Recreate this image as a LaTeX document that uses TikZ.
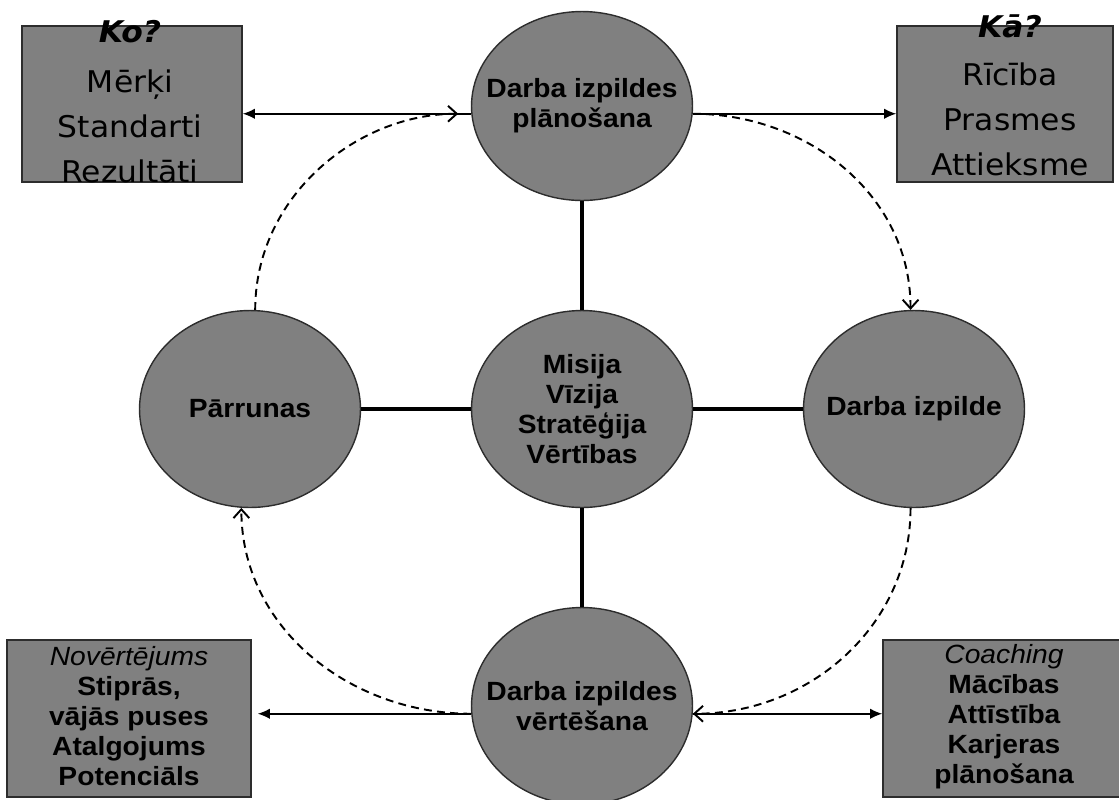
\documentclass[tikz,border=0pt]{standalone}
\usepackage{fontspec}
\usepackage{tikz}
\usetikzlibrary{shapes.geometric,arrows.meta}
\newfontfamily\boxfont[FakeStretch=1.05]{DejaVu Sans}
\newfontfamily\nodefont[FakeStretch=1.07]{Liberation Sans}
\definecolor{fillgray}{RGB}{128,128,128}
\definecolor{edgegray}{RGB}{45,45,45}
\tikzset{
  phase/.style={ellipse, draw=edgegray, fill=fillgray, line width=0.8pt,
    minimum width=4.42cm, minimum height=3.94cm, inner xsep=-1.2cm,
    inner ysep=0pt, align=center,
    font=\nodefont\bfseries\fontsize{15}{17}\selectfont},
  infobox/.style={rectangle, draw=edgegray, fill=fillgray, line width=0.8pt,
    inner sep=0pt},
  toptext/.style={inner sep=0pt, align=center, anchor=base,
    font=\boxfont\fontsize{17}{25.5}\selectfont},
  lowtext/.style={inner sep=0pt, align=center, anchor=base,
    font=\nodefont\bfseries\fontsize{15}{17}\selectfont},
  link/.style={line width=2.2pt},
  arr/.style={line width=0.9pt, -{Latex[length=7pt,width=6pt]}},
  flow/.style={dash pattern=on 4.5pt off 3pt, line width=1.1pt,
    -{Straight Barb[length=5pt,width=9pt]}}
}
\begin{document}
\begin{tikzpicture}[x=0.02cm, y=0.02cm]
\useasboundingbox (0,0) rectangle (1119,-799);
%%phases
\node[phase, minimum height=3.78cm] (plan) at (582,-106) {Darba izpildes\\plānošana};
\node[phase] (core) at (582,-409) {Misija\\Vīzija\\Stratēģija\\Vērtības};
\node[phase] (talk) at (250,-409) {Pārrunas};
\node[phase] (work) at (914,-409) {Darba izpilde};
\node[phase] (eval) at (582,-706) {Darba izpildes\\vērtēšana};
%%boxes
\node[infobox, minimum width=4.4cm, minimum height=3.12cm] (ko) at (132,-104) {};
\node[toptext] (kotxt) at (130,-182)
     {\textbf{\textit{Ko?}}\\[3pt]Mērķi\\Standarti\\Rezultāti};
\node[infobox, minimum width=4.32cm, minimum height=3.12cm] (ka) at (1005,-104) {};
\node[toptext] (katxt) at (1010,-175)
     {\textbf{\textit{Kā?}}\\[1.5pt]Rīcība\\Prasmes\\Attieksme};
\node[infobox, minimum width=4.88cm, minimum height=3.14cm] (nov) at (129,-718.5) {};
\node[lowtext] (novtxt) at (129,-785)
     {\textmd{\textit{Novērtējums}}\\Stiprās,\\vājās puses\\Atalgojums\\Potenciāls};
\node[infobox, minimum width=4.84cm, minimum height=3.14cm] (coach) at (1004,-718.5) {};
\node[lowtext] (coachtxt) at (1004,-783)
     {\textmd{\textit{Coaching}}\\Mācības\\Attīstība\\Karjeras\\plānošana};
%thick links
\draw[link] (plan) -- (core);
\draw[link] (talk) -- (core);
\draw[link] (core) -- (work);
\draw[link] (core) -- (eval);
%solid arrows
\draw[arr] (plan.184) -- (plan.184 -| ko.east);
\draw[arr] (plan.-4) -- (plan.-4 -| ka.west);
\draw[arr, shorten >=0.12cm] (eval.184) -- (eval.184 -| nov.east);
\draw[arr] (eval.-4) -- (eval.-4 -| coach.west);
%dashed cycle
\draw[flow, shorten >=0.26cm] (talk.87) to[out=90,in=180] (plan.184);
\draw[flow] (plan.-4) to[out=0,in=90] (work.92);
\draw[flow] (work.268) to[out=-90,in=0] (eval.-4);
\draw[flow] (eval.184) to[out=180,in=-90] (talk.265);
\end{tikzpicture}
\end{document}
